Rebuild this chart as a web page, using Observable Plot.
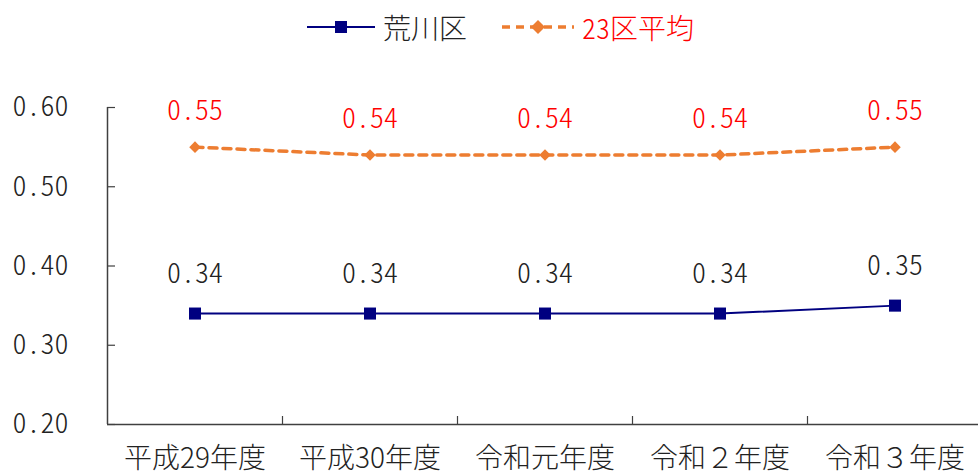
<!DOCTYPE html>
<html>
<head>
<meta charset="utf-8">
<script src="https://cdn.jsdelivr.net/npm/d3@7"></script>
<script src="https://cdn.jsdelivr.net/npm/@observablehq/plot@0.6"></script>
<style>
  html, body { margin: 0; padding: 0; background: #fff; }
  body { width: 978px; height: 473px; overflow: hidden; font-family: "Noto Sans CJK JP", sans-serif; }
  #legend { position: relative; width: 978px; height: 55px; font-size: 28px; font-weight: 300; font-feature-settings: "hwid" 1; }
  .item { position: absolute; top: 8px; display: flex; align-items: center; height: 38px; white-space: nowrap; }
  .item svg { margin-right: 8px; }
  /* half-width numerals for the values; the year labels keep their own widths */
  svg text { font-feature-settings: "hwid" 1; }
  svg g[aria-label="x-axis tick label"] text { font-feature-settings: normal; }
</style>
</head>
<body>
<div id="legend">
  <div class="item" style="left:307px;color:#222">
    <svg width="68" height="20"><line x1="0" y1="10" x2="68" y2="10" stroke="#000080" stroke-width="2"/><rect x="28" y="4" width="12" height="12" fill="#000080"/></svg>荒川区
  </div>
  <div class="item" style="left:502px;color:#ff0000">
    <svg width="72" height="20"><line x1="0" y1="10" x2="72" y2="10" stroke="#ed7d31" stroke-width="3.5" stroke-dasharray="8,6"/><path d="M36,3L43,10L36,17L29,10Z" fill="#ed7d31"/></svg>23区平均
  </div>
</div>
<div id="chart"></div>
<script>
// Fiscal years on the horizontal axis
const categories = ["平成29年度", "平成30年度", "令和元年度", "令和２年度", "令和３年度"];
// 荒川区 and the 23-ward average
const arakawa = [0.34, 0.34, 0.34, 0.34, 0.35];
const avg23 = [0.55, 0.54, 0.54, 0.54, 0.55];
const yTicks = [0.2, 0.3, 0.4, 0.5, 0.6];

// each year sits in the middle of its slot: slot i spans [i, i+1]
const rowsA = categories.map((c, i) => ({x: i + 0.5, year: c, value: arakawa[i]}));
const rowsB = categories.map((c, i) => ({x: i + 0.5, year: c, value: avg23[i]}));
const slotEdges = d3.range(1, categories.length);
const slotCenters = categories.map((c, i) => i + 0.5);
const fmt = d3.format(".2f");

const chart = Plot.plot({
  width: 978,
  height: 418,
  marginTop: 52,
  marginBottom: 49,
  marginLeft: 107,
  marginRight: 0,
  style: {fontFamily: "'Noto Sans CJK JP', sans-serif", fontSize: "28px", fontWeight: 300, color: "#222", background: "#fff"},
  x: {type: "linear", domain: [0, categories.length], range: [107, 982]},
  y: {domain: [0.2, 0.6], ticks: yTicks},
  marks: [
    // axis lines
    Plot.ruleY([0.2], {stroke: "#404040", strokeWidth: 1.5}),
    Plot.ruleX([0], {y1: 0.2, y2: 0.6, stroke: "#404040", strokeWidth: 1.5}),
    // inward tick marks
    Plot.axisY({ticks: yTicks, tickSize: -8, text: null, label: null, stroke: "#404040", strokeWidth: 1.2}),
    Plot.axisY({ticks: yTicks, tickSize: 0, tickPadding: 39, tickFormat: fmt, fill: "#222", fontSize: 28, label: null}),
    Plot.axisX({ticks: slotEdges, tickSize: -8, text: null, label: null, stroke: "#404040", strokeWidth: 1.2}),
    Plot.axisX({ticks: slotCenters, tickSize: 0, tickPadding: 24, tickFormat: (d) => categories[Math.floor(d)], fill: "#222", fontSize: 28, label: null}),
    // 23区平均
    Plot.line(rowsB, {x: "x", y: "value", stroke: "#ed7d31", strokeWidth: 3.5, strokeDasharray: "8,6"}),
    Plot.dot(rowsB, {x: "x", y: "value", symbol: "diamond2", r: 5.2, fill: "#ed7d31", stroke: null}),
    Plot.text(rowsB, {x: "x", y: "value", text: (d) => fmt(d.value), dy: -36, fill: "#ff0000", fontSize: 28}),
    // 荒川区
    Plot.line(rowsA, {x: "x", y: "value", stroke: "#000080", strokeWidth: 2}),
    Plot.dot(rowsA, {x: "x", y: "value", symbol: "square", r: 6.8, fill: "#000080", stroke: null}),
    Plot.text(rowsA, {x: "x", y: "value", text: (d) => fmt(d.value), dy: -40, fill: "#222", fontSize: 28})
  ]
});
document.getElementById("chart").appendChild(chart);
</script>
</body>
</html>
